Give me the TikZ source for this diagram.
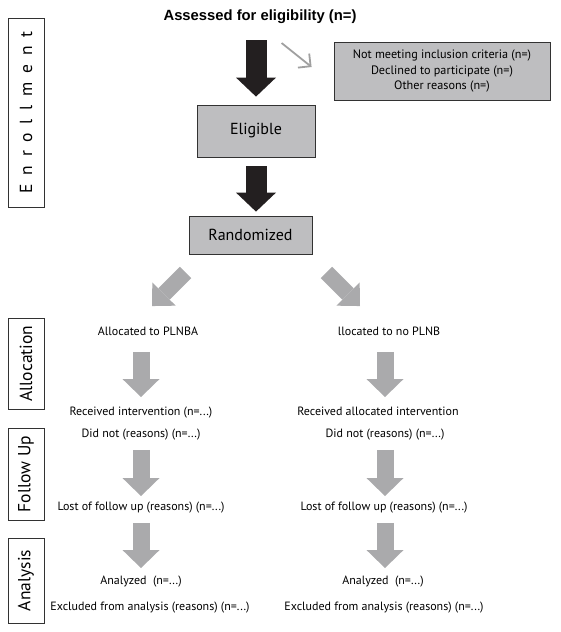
\documentclass[tikz,border=0pt]{standalone}
\usepackage{fontspec}
\setmainfont{PT Sans}
\newfontfamily\titlefont{Liberation Sans}
\usetikzlibrary{arrows.meta}

\definecolor{boxgray}{RGB}{190,190,192}
\definecolor{arrowgray}{RGB}{170,170,172}
\definecolor{thingray}{RGB}{160,160,160}
\definecolor{darkline}{RGB}{50,50,50}
\definecolor{blk}{RGB}{35,31,32}

\begin{document}
\begin{tikzpicture}[x=1pt, y=-1pt,
    stagebox/.style={draw=darkline, fill=boxgray, line width=0.8pt, font=\fontsize{16}{18}\selectfont},
    phase/.style={draw=darkline, line width=0.8pt, rotate=90, minimum height=36pt, inner sep=0pt, font=\fontsize{17.5}{20}\selectfont},
    txt/.style={inner sep=0pt, text height=8.5pt, text depth=3pt, font=\fontsize{12}{14}\selectfont},
    blackarrow/.style={draw=blk, line width=21pt, -{Triangle[length=19pt, width=40pt, line width=0pt]}},
    grayarrow/.style={draw=arrowgray, line width=17pt, -{Triangle[length=18pt, width=37pt, line width=0pt]}},
    diagarrow/.style={draw=arrowgray, line width=16pt, -{Triangle[length=17pt, width=33pt, line width=0pt]}},
    thinarrow/.style={draw=thingray, line width=1.8pt, -{Straight Barb[length=9pt, width=18pt]}}
]
\useasboundingbox (0,0) rectangle (561,632);

% phases on the left
\node[phase, minimum width=189pt] (enrol) at (26,112.5) {\addfontfeature{LetterSpace=50}Enrollment\hspace{-0.5em}};
\node[phase, minimum width=91pt] (alloc) at (26,363.5) {Allocation};
\node[phase, minimum width=92pt] (follow) at (26,474) {Follow Up};
\node[phase, minimum width=85pt] (analys) at (26,580.5) {Analysis};

% enrollment
\node[inner sep=0pt, font=\titlefont\bfseries\fontsize{14.8}{17}\selectfont] (title) at (260,17) {Assessed for eligibility (n=)};
\node[stagebox, minimum width=216pt, minimum height=58pt, align=center, font=\fontsize{12.2}{15.5}\selectfont] (excl) at (442,71)
    {Not meeting inclusion criteria (n=)\\Declined to participate (n=)\\Other reasons (n=)};
\node[stagebox, minimum width=118pt, minimum height=52pt] (elig) at (256,131) {Eligible};
\node[stagebox, minimum width=123pt, minimum height=38pt] (rand) at (250.5,235) {Randomized};

\draw[blackarrow, shorten <=16pt, shorten >=8pt] (title.south -| elig.north) -- (elig.north);
\draw[thinarrow] ([shift={(-52,-28)}]excl.west) -- ([shift={(-22,-4)}]excl.west);
\draw[blackarrow, shorten <=9pt, shorten >=4pt] (elig.south) -- (elig.south |- rand.north);

% left arm
\node[txt] (allocA) at (148,333) {Allocated to PLNBA};
\node[txt] (recvA) at (141,413) {Received intervention (n=...)};
\node[txt] (didA) at (141,435) {Did not (reasons) (n=...)};
\node[txt] (lostA) at (141,508) {Lost of follow up (reasons) (n=...)};
\node[txt] (anaA) at (141,582) {Analyzed~ (n=...)};
\node[txt] (exclA) at (150,608) {Excluded from analysis (reasons) (n=...)};

% right arm
\node[txt] (allocB) at (389,333) {llocated to no PLNB};
\node[txt] (recvB) at (378,413) {Received allocated intervention};
\node[txt] (didB) at (385,435) {Did not (reasons) (n=...)};
\node[txt] (lostB) at (384,508) {Lost of follow up (reasons) (n=...)};
\node[txt] (anaB) at (383,582) {Analyzed~ (n=...)};
\node[txt] (exclB) at (384,608) {Excluded from analysis (reasons) (n=...)};

\draw[diagarrow] ([shift={(-3,18)}]rand.south west) -- ([shift={(4,-21)}]allocA.north);
\draw[diagarrow] ([shift={(14,18)}]rand.south east) -- ([shift={(-29,-21)}]allocB.north);

\draw[grayarrow, shorten <=13pt, shorten >=10pt] (allocA.south -| didA) -- (recvA.north -| didA);
\draw[grayarrow, shorten <=9pt, shorten >=6pt] (didA.south) -- (lostA.north);
\draw[grayarrow, shorten <=9pt, shorten >=8pt] (lostA.south) -- (anaA.north);

\draw[grayarrow, shorten <=13pt, shorten >=10pt] (allocB.south -| didB) -- (recvB.north -| didB);
\draw[grayarrow, shorten <=9pt, shorten >=6pt] (didB.south) -- (didB.south |- lostB.north);
\draw[grayarrow, shorten <=9pt, shorten >=8pt] (lostB.south -| didB) -- (anaB.north -| didB);

\end{tikzpicture}
\end{document}
